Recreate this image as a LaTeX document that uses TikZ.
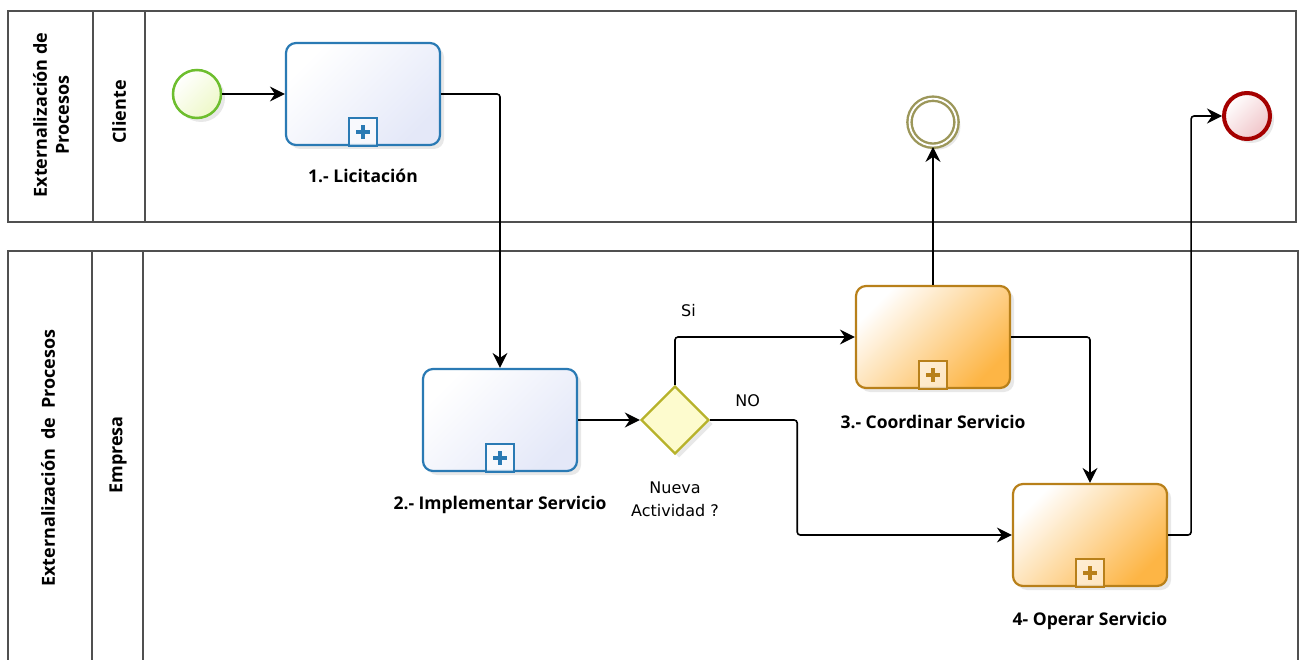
\documentclass[tikz,border=0pt]{standalone}
\usepackage{fontspec}
\setmainfont{Open Sans}
\newfontfamily\flowfont{DejaVu Sans}
\usetikzlibrary{arrows.meta,shapes.geometric,shadows,positioning}

\definecolor{taskblue}{HTML}{2A7AB4}
\definecolor{taskbluefill}{HTML}{E4E8F8}
\definecolor{taskorange}{HTML}{B8801A}
\definecolor{taskorangefill}{HTML}{FDB545}
\definecolor{startgreen}{HTML}{6DBE2E}
\definecolor{startfill}{HTML}{EEF8C8}
\definecolor{gateolive}{HTML}{B7B22A}
\definecolor{gatefill}{HTML}{FDFBCE}
\definecolor{interolive}{HTML}{9C975A}
\definecolor{endred}{HTML}{A50000}
\definecolor{endfill}{HTML}{F0C4C8}
\definecolor{poolline}{HTML}{505050}

\tikzset{
  softshadow/.style={drop shadow={shadow xshift=4pt, shadow yshift=-4pt, opacity=0.18, fill=gray}},
  subtask/.style={draw, line width=2.2pt, rounded corners=10pt, minimum width=154pt,
    minimum height=102pt, softshadow},
  bluetask/.style={subtask, draw=taskblue, top color=white, bottom color=taskbluefill, shading angle=45},
  orangetask/.style={subtask, draw=taskorange, top color=white, bottom color=taskorangefill, shading angle=45},
  startev/.style={circle, draw=startgreen, line width=2.5pt, minimum size=48pt, inner sep=0pt,
    top color=white, bottom color=startfill, shading angle=45, softshadow},
  interend/.style={circle, draw=interolive, double=white, double distance=1.8pt, line width=2.4pt,
    minimum size=47pt, inner sep=0pt, fill=white, softshadow},
  endev/.style={circle, draw=endred, line width=4pt, minimum size=46pt, inner sep=0pt,
    top color=white, bottom color=endfill, shading angle=45, softshadow},
  gateway/.style={diamond, aspect=1, draw=gateolive, line width=2.4pt, minimum size=68pt,
    inner sep=0pt, fill=gatefill, softshadow},
  tasklabel/.style={font=\bfseries\fontsize{17.5}{20}\selectfont},
  flowlabel/.style={font=\flowfont\fontsize{16}{23}\selectfont, align=center},
  lanelabel/.style={font=\bfseries\fontsize{18}{22}\selectfont, rotate=90, align=center},
  flow/.style={draw, line width=1.6pt, rounded corners=3pt,
    -{Stealth[length=15pt,width=15pt,inset=5pt]}},
  pool/.style={draw=poolline, line width=1.2pt},
  pics/plusmark/.style={code={
    \draw[line width=1.8pt, draw=#1, fill=white, fill opacity=0.6] (-14,-14) rectangle (14,14);
    \draw[line width=4.5pt, draw=#1] (-7,0) -- (7,0) (0,-7) -- (0,7);
  }},
}

\begin{document}
\begin{tikzpicture}[x=1pt,y=-1pt]
  \useasboundingbox (0,0) rectangle (1304,660);

  % pools and lanes
  \draw[pool] (8,11) rectangle (1296,222);
  \draw[pool] (93,11) -- (93,222);
  \draw[pool] (145,11) -- (145,222);
  \draw[pool] (8,662) -- (8,251) -- (1298,251) -- (1298,662);
  \draw[pool] (92,251) -- (92,662);
  \draw[pool] (143,251) -- (143,662);
  \node[lanelabel] (poolcli) at (51,115) {Externalización de\\Procesos};
  \node[lanelabel] (lanecli) at (119,112) {Cliente};
  \node[lanelabel] (poolemp) at (48,458) {Externalización\hspace{0.5em}de\hspace{0.5em}Procesos};
  \node[lanelabel] (laneemp) at (118,455) {Empresa};

  % events, tasks, gateway
  \node[startev] (start) at (197,94) {};
  \node[bluetask] (licit) at (363,94) {};
  \node[bluetask] (impl) at (500,420) {};
  \node[gateway] (gate) at (675,420) {};
  \node[orangetask] (coord) at (933,337) {};
  \node[orangetask] (oper) at (1090,535) {};
  \node[interend, above=138pt of coord] (inter) {};
  \node[endev] (finish) at (1247,116) {};

  \pic at ([yshift=14pt]licit.south) {plusmark=taskblue};
  \pic at ([yshift=14pt]impl.south) {plusmark=taskblue};
  \pic at ([yshift=14pt]coord.south) {plusmark=taskorange};
  \pic at ([yshift=14pt]oper.south) {plusmark=taskorange};

  % labels
  \node[tasklabel, below=19pt of licit] (licitlbl) {1.- Licitación};
  \node[tasklabel, below=21pt of impl] (impllbl) {2.- Implementar Servicio};
  \node[tasklabel, below=23pt of coord] (coordlbl) {3.- Coordinar Servicio};
  \node[tasklabel, below=22pt of oper] (operlbl) {4- Operar Servicio};
  \node[flowlabel, below=23pt of gate] (gatelbl) {Nueva\\Actividad ?};

  % sequence flows
  \draw[flow] (start) -- (licit);
  \draw[flow] (licit.east) -| (impl.north);
  \draw[flow] (impl) -- (gate);
  \draw[flow] (gate.north) |- node[flowlabel, pos=0.5, above right=16pt and 2pt] {Si} (coord.west);
  \draw[flow] (gate.east) -- node[flowlabel, above=9pt, xshift=-6pt] {NO} ++(87,0) |- (oper.west);
  \draw[flow] (coord.north) -- (inter.south);
  \draw[flow] (coord.east) -| (oper.north);
  \draw[flow] (oper.east) -- ++(23,0) |- (finish.west);
\end{tikzpicture}
\end{document}
